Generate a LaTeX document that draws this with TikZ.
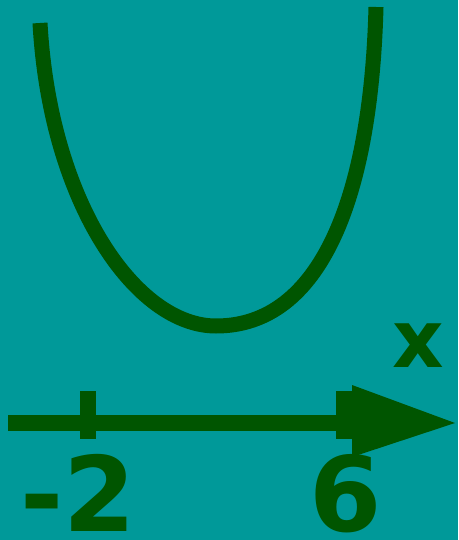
\documentclass[tikz,border=0pt]{standalone}
\usepackage{fontspec}
\setmainfont{DejaVu Sans}
\usepackage{tikz}
\usetikzlibrary{positioning}

\definecolor{bgteal}{HTML}{009999}
\definecolor{plotgreen}{HTML}{005500}

\begin{document}
\begin{tikzpicture}[
    x=1pt, y=-1pt,
    curve/.style={draw=plotgreen, line width=15pt, line cap=butt},
    axisline/.style={draw=plotgreen, line width=16pt, line cap=butt},
    tick/.style={fill=plotgreen},
    numlabel/.style={text=plotgreen, anchor=base, inner sep=0pt, font=\fontsize{104}{104}\selectfont\bfseries}
]
\fill[bgteal] (0,0) rectangle (458,540);
\useasboundingbox (0,0) rectangle (458,540);

% the curve
\coordinate (lefttop) at (40,23);
\coordinate (vertex) at (216,326);
\coordinate (righttop) at (376,7);
\draw[curve] (lefttop) .. controls (50,203) and (136,326) .. (vertex)
    .. controls (321,326) and (371,197) .. (righttop);

% the x axis
\coordinate (axisstart) at (8,423);
\coordinate (axisend) at (352,423);
\draw[axisline] (axisstart) -- (axisend);
\fill[plotgreen] (352,385) -- (455,423) -- (352,457) -- cycle;
\fill[tick] (80,391) rectangle (96,439);
\fill[tick] (336,391) rectangle (352,439);

% labels
\node[numlabel] (lblminus) at (78,531) {-2};
\node[numlabel] (lblsix) at (346,531) {6};
\node[numlabel, font=\fontsize{80}{80}\selectfont\bfseries] (lblx) at (418,367) {x};
\end{tikzpicture}
\end{document}
